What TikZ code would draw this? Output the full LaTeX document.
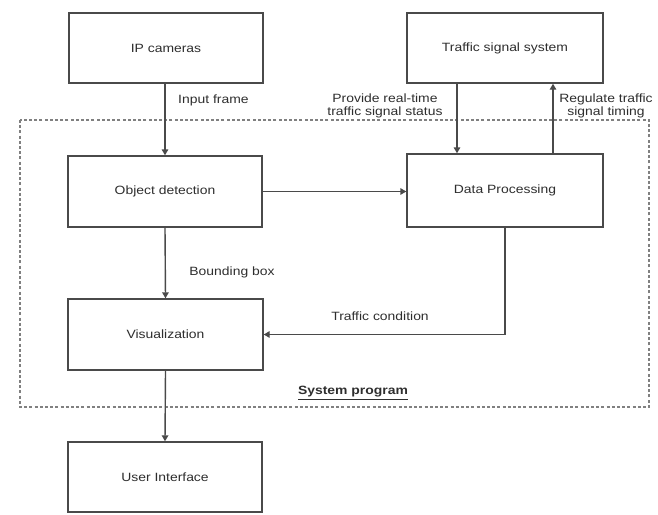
\documentclass[tikz,border=0pt]{standalone}
\usepackage{fontspec}
\setmainfont{Liberation Sans}[FakeStretch=1.16]
\usetikzlibrary{arrows.meta}
\definecolor{linec}{HTML}{4A4A4A}
\definecolor{textc}{HTML}{2E2E2E}
\definecolor{dashc}{HTML}{808080}
\tikzset{
  blk/.style={draw=linec, line width=1.4pt, fill=white, text=textc, font=\fontsize{12}{12.7}\selectfont, inner sep=0pt},
  arr/.style={draw=linec, line width=1.4pt, -{Triangle[length=6pt,width=6.5pt]}},
  lbl/.style={text=textc, font=\fontsize{12}{12.7}\selectfont, inner sep=0pt, align=center},
  sysbox/.style={draw=dashc, line width=1.1pt, dash pattern=on 3pt off 2.2pt}
}
\begin{document}
\begin{tikzpicture}[x=1pt,y=-1pt]
\useasboundingbox (0,0) rectangle (658,514);
\draw[sysbox] (20,120) rectangle (649,407);
\node[blk, minimum width=194pt, minimum height=70pt] (ip) at (166,48) {IP cameras};
\node[blk, minimum width=196pt, minimum height=70pt] (tss) at (505,48) {Traffic signal system};
\node[blk, minimum width=194pt, minimum height=71pt] (od) at (165,191.5) {Object detection};
\node[blk, minimum width=196pt, minimum height=73pt] (dp) at (505,190.5) {Data Processing};
\node[blk, minimum width=195pt, minimum height=71pt] (vis) at (165.5,334.5) {Visualization};
\node[blk, minimum width=194pt, minimum height=70pt] (ui) at (165,477) {User Interface};
\coordinate (dnx) at (457,0);
\coordinate (upx) at (553,0);
\draw[arr] (ip.south -| od.north) -- (od.north);
\draw[arr] (od.east) -- (od.east -| dp.west);
\draw[arr] (tss.south -| dnx) -- (dp.north -| dnx);
\draw[arr] (dp.north -| upx) -- (tss.south -| upx);
\draw[arr] (od.south) -- (vis.north);
\draw[arr] (dp.south) |- (vis.east);
\draw[arr] (vis.south) -- (ui.north);
\node[lbl, anchor=west] (l1) at (178,100) {Input frame};
\node[lbl] (l2) at (385,106) {Provide real-time\\traffic signal status};
\node[lbl] (l3) at (606,106) {Regulate traffic\\signal timing};
\node[lbl] (l4) at (232,272) {Bounding box};
\node[lbl] (l5) at (380,316) {Traffic condition};
\node[lbl] (l6) at (353,393) {\bfseries\underline{System program}};
\end{tikzpicture}
\end{document}
